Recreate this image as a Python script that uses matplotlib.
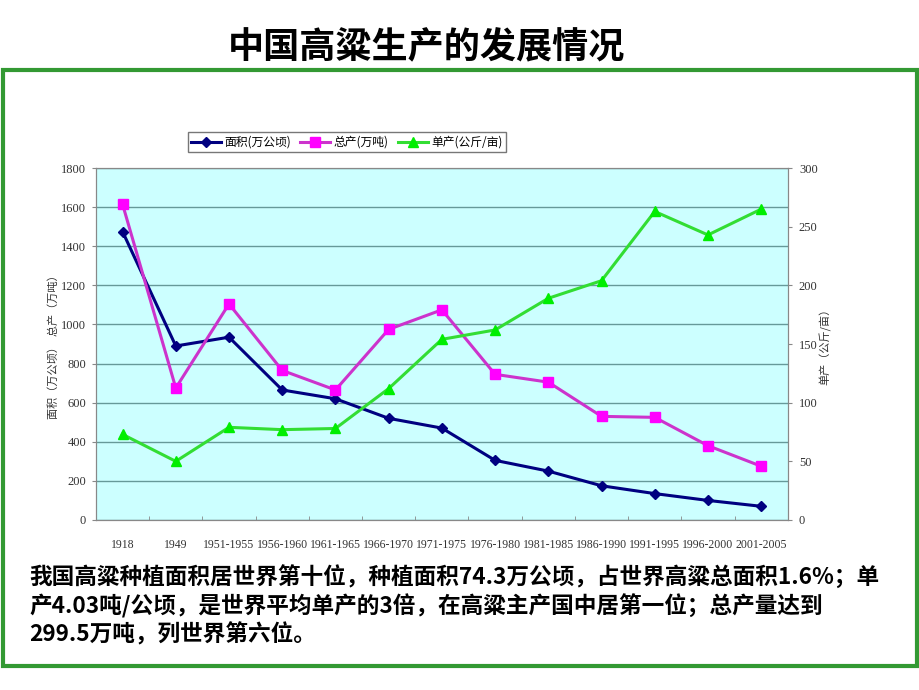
import matplotlib.pyplot as plt
from matplotlib.patches import Rectangle
import numpy as np

plt.rcParams['font.family'] = ['Noto Sans CJK SC', 'DejaVu Sans']

periods = ["1918", "1949", "1951-1955", "1956-1960", "1961-1965", "1966-1970",
           "1971-1975", "1976-1980", "1981-1985", "1986-1990", "1991-1995",
           "1996-2000", "2001-2005"]
area = [1475, 890, 935, 665, 620, 520, 470, 305, 250, 175, 135, 100, 70]
total = [1615, 675, 1105, 765, 665, 975, 1075, 745, 705, 530, 525, 380, 275]
yield_per_mu = [73, 50, 79, 77, 78, 112, 154, 162, 189, 204, 263, 243, 265]

fig = plt.figure(figsize=(9.2, 6.9), dpi=100)

# green frame round the slide body
fig.patches.append(Rectangle((3 / 920, 24 / 690), 914 / 920, 596 / 690,
                             transform=fig.transFigure, fill=False,
                             edgecolor="#339933", linewidth=3))

fig.text(0.464, 0.930, "中国高粱生产的发展情况", fontsize=26, fontweight="bold",
         ha="center", va="center")

ax = fig.add_axes([0.1043, 0.2464, 0.752, 0.510])
ax.set_facecolor("#CCFFFF")
x = np.arange(len(periods))

l1, = ax.plot(x, area, color="#000080", lw=2.2, marker="D", ms=5.5,
              markerfacecolor="#000080", label="面积(万公顷)")
l2, = ax.plot(x, total, color="#CC33CC", lw=2.2, marker="s", ms=7,
              markerfacecolor="#FF00FF", markeredgecolor="#FF00FF", label="总产(万吨)")

ax2 = ax.twinx()
l3, = ax2.plot(x, yield_per_mu, color="#33DD33", lw=2.2, marker="^", ms=7.5,
               markerfacecolor="#00EE00", markeredgecolor="#00EE00", label="单产(公斤/亩)")

ax.set_xlim(-0.5, len(periods) - 0.5)
ax.set_ylim(0, 1800)
ax.set_yticks(range(0, 1801, 200))
ax2.set_ylim(0, 300)
ax2.set_yticks(range(0, 301, 50))
ax.yaxis.grid(True, color="#669999", lw=1)
ax.set_axisbelow(True)

ax.set_xticks(x)
ax.set_xticklabels(periods, family="Liberation Serif", fontsize=8.5)
ax.set_xticks(np.arange(-0.5, len(periods), 1), minor=True)
ax.tick_params(axis="x", which="major", length=0, pad=14)
ax.tick_params(axis="x", which="minor", length=3, direction="in", color="#888888")
for lab in ax.get_yticklabels() + ax2.get_yticklabels():
    lab.set_family("Liberation Serif")
    lab.set_fontsize(9)
    lab.set_color("#333333")
for lab in ax.get_xticklabels():
    lab.set_color("#333333")
ax.tick_params(axis="y", length=3, color="#888888", pad=4)
ax2.tick_params(axis="y", length=3, color="#888888", pad=5)
for a in (ax, ax2):
    for s in a.spines.values():
        s.set_color("#888888")

ax.set_ylabel("面积（万公顷）  总产（万吨）", fontsize=8, color="#333333", labelpad=2)
ax2.set_ylabel("单产（公斤/亩）", fontsize=8, color="#333333", labelpad=1)

fig.legend(handles=[l1, l2, l3], loc="center", bbox_to_anchor=(0.377, 0.794),
           ncol=3, fontsize=8.5, frameon=True, fancybox=False, edgecolor="#555555",
           handlelength=2.5, columnspacing=0.8, handletextpad=0.3, borderpad=0.3)

lines = ["我国高粱种植面积居世界第十位，种植面积74.3万公顷，占世界高粱总面积1.6%；单",
         "产4.03吨/公顷，是世界平均单产的3倍，在高粱主产国中居第一位；总产量达到",
         "299.5万吨，列世界第六位。"]
for i, t in enumerate(lines):
    fig.text(0.032, 0.162 - i * 0.041, t, fontsize=16.3, fontweight="bold",
             ha="left", va="center")

fig.savefig("out.png", dpi=100)
